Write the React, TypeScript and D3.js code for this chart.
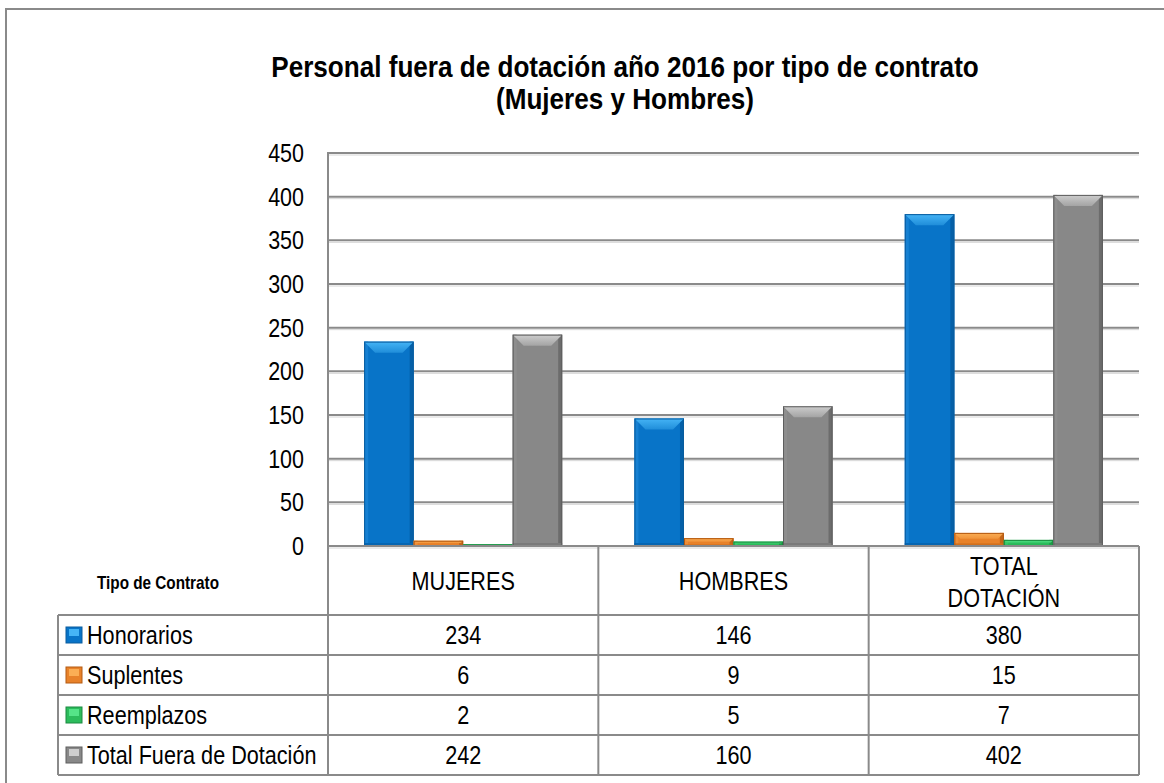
import React from "react";
import * as d3 from "d3";

const categories = ["MUJERES", "HOMBRES", "TOTAL DOTACIÓN"];
const categoryLines = [["MUJERES"], ["HOMBRES"], ["TOTAL", "DOTACIÓN"]];
const seriesNames = ["Honorarios", "Suplentes", "Reemplazos", "Total Fuera de Dotación"];
const honorarios = [234, 146, 380];
const suplentes = [6, 9, 15];
const reemplazos = [2, 5, 7];
const totalFuera = [242, 160, 402];
const seriesValues = [honorarios, suplentes, reemplazos, totalFuera];
const yTicks = [0, 50, 100, 150, 200, 250, 300, 350, 400, 450];
const title1 = "Personal fuera de dotación año 2016 por tipo de contrato";
const title2 = "(Mujeres y Hombres)";
const tableHeader = "Tipo de Contrato";

const palettes = [
  { body: "#0874C8", left: "#1680D2", right: "#0560A8", top: "#45B4F6", edge: "#0A5C9E", bottom: "#0666B2" },
  { body: "#E8822A", left: "#EE8E38", right: "#C4661A", top: "#FBAE55", edge: "#B45A12", bottom: "#D2701E" },
  { body: "#2CBC5C", left: "#38C668", right: "#1E9A48", top: "#55E488", edge: "#1A8A40", bottom: "#24A852" },
  { body: "#888888", left: "#8E8E8E", right: "#6C6C6C", top: "#CDCDCD", edge: "#5E5E5E", bottom: "#7A7A7A" },
];

const FONT = "'Liberation Sans Narrow', 'Arial Narrow', 'Liberation Sans', Arial, sans-serif";

const W = 1164;
const H = 783;
const plotLeft = 328;
const plotRight = 1139;
const plotTop = 153;
const plotBottom = 546;
const tableLeft = 58;
const rowH = 40;
const tableRowsTop = 615;

function T({ x, y, anchor = "start", size = 25, weight = "normal", sx = 0.865, dy, children }: any) {
  return (
    <text
      transform={`translate(${x},${y}) scale(${sx},1)`}
      textAnchor={anchor}
      fontSize={size}
      fontWeight={weight}
      dy={dy}
      fill="#000"
    >
      {children}
    </text>
  );
}

function Bar({ x, y, w, h, p, i }: any) {
  if (h <= 0) return null;
  const b = Math.min(11, h * 0.45);
  const s = Math.min(4, w / 8);
  return (
    <g>
      <rect x={x} y={y} width={w} height={h} fill={p.body} />
      <rect x={x} y={y} width={s} height={h} fill={p.left} />
      <rect x={x + w - s} y={y} width={s} height={h} fill={p.right} />
      <rect x={x} y={y + h - Math.min(3, h * 0.2)} width={w} height={Math.min(3, h * 0.2)} fill={p.bottom} />
      <polygon
        points={`${x},${y} ${x + w},${y} ${x + w - b},${y + b} ${x + b},${y + b}`}
        fill={`url(#topgrad${i})`}
      />
      <rect x={x + 0.5} y={y + 0.5} width={w - 1} height={Math.max(0, h - 1)} fill="none" stroke={p.edge} strokeWidth={1} />
    </g>
  );
}

export default function App() {
  const y = d3.scaleLinear().domain([0, 450]).range([plotBottom, plotTop]);
  const x0 = d3.scaleBand<string>().domain(categories).range([plotLeft, plotRight]).padding(0);
  const x1 = d3
    .scaleBand<number>()
    .domain(d3.range(seriesNames.length))
    .range([0, x0.bandwidth()])
    .paddingInner(0)
    .paddingOuter(0.73);

  const colBounds = [plotLeft, ...categories.map((c) => (x0(c) as number) + x0.bandwidth())];
  const rowYs = d3.range(seriesNames.length + 1).map((k) => tableRowsTop + k * rowH);
  const gridCol = "#8A8A8A";

  return (
    <svg width={W} height={H} style={{ position: "absolute", left: 0, top: 0, background: "#fff" }} fontFamily={FONT}>
      <defs>
        {palettes.map((p, i) => (
          <linearGradient key={i} id={`topgrad${i}`} x1="0" y1="0" x2="0" y2="1">
            <stop offset="0" stopColor={p.top} />
            <stop offset="1" stopColor={d3.interpolateRgb(p.top, p.body)(0.6)} />
          </linearGradient>
        ))}
      </defs>
      <rect x={0} y={0} width={W} height={H} fill="#fff" />
      <rect x={6} y={9} width={W + 10} height={H + 10} fill="none" stroke="#8A8A8A" strokeWidth={2} />

      <T x={625} y={77} anchor="middle" size={30} weight="bold" sx={0.87}>{title1}</T>
      <T x={625} y={109} anchor="middle" size={30} weight="bold" sx={0.87}>{title2}</T>

      {/* gridlines */}
      {yTicks.map((t) => (
        <g key={t}>
          <line x1={plotLeft} x2={plotRight} y1={y(t) + 2} y2={y(t) + 2} stroke="#D6D6D6" strokeWidth={1} />
          <line x1={plotLeft} x2={plotRight} y1={y(t)} y2={y(t)} stroke={gridCol} strokeWidth={2} />
          <T x={304} y={y(t)} dy="0.36em" anchor="end" size={25} sx={0.86}>{t}</T>
        </g>
      ))}

      {/* bars */}
      {categories.map((c, ci) => (
        <g key={c}>
          {seriesValues.map((vals, si) => {
            const bx = (x0(c) as number) + (x1(si) as number);
            const by = y(vals[ci]);
            return <Bar key={si} x={bx} y={by} w={x1.bandwidth()} h={plotBottom - by} p={palettes[si]} i={si} />;
          })}
        </g>
      ))}

      {/* axis line */}
      <line x1={plotLeft} x2={plotLeft} y1={plotTop - 1} y2={rowYs[rowYs.length - 1]} stroke={gridCol} strokeWidth={2} />
      <line x1={plotLeft} x2={plotRight} y1={plotBottom} y2={plotBottom} stroke={gridCol} strokeWidth={2} />

      {/* table */}
      {colBounds.slice(1).map((cx, k) => (
        <line key={k} x1={cx} x2={cx} y1={plotBottom} y2={rowYs[rowYs.length - 1]} stroke={gridCol} strokeWidth={2} />
      ))}
      {rowYs.map((ry, k) => (
        <line key={k} x1={tableLeft} x2={plotRight} y1={ry} y2={ry} stroke={gridCol} strokeWidth={2} />
      ))}
      <line x1={tableLeft} x2={tableLeft} y1={tableRowsTop} y2={rowYs[rowYs.length - 1]} stroke={gridCol} strokeWidth={2} />

      <T x={158} y={589} anchor="middle" size={18} weight="bold" sx={0.85}>{tableHeader}</T>

      {categories.map((c, ci) => {
        const cx = (x0(c) as number) + x0.bandwidth() / 2;
        const lines = categoryLines[ci];
        const startY = lines.length === 1 ? 590 : 575;
        return (
          <g key={c}>
            {lines.map((l, li) => (
              <T key={li} x={cx} y={startY + li * 32} anchor="middle">{l}</T>
            ))}
          </g>
        );
      })}

      {seriesNames.map((name, si) => {
        const ry = rowYs[si];
        const p = palettes[si];
        return (
          <g key={name}>
            <rect x={66} y={ry + 12} width={16} height={16} fill={p.body} stroke={p.edge} strokeWidth={1} />
            <rect x={69} y={ry + 14} width={10} height={7} fill={p.top} />
            <T x={87} y={ry + 29}>{name}</T>
            {categories.map((c, ci) => (
              <T key={c} x={(x0(c) as number) + x0.bandwidth() / 2} y={ry + 29} anchor="middle">
                {seriesValues[si][ci]}
              </T>
            ))}
          </g>
        );
      })}
    </svg>
  );
}
